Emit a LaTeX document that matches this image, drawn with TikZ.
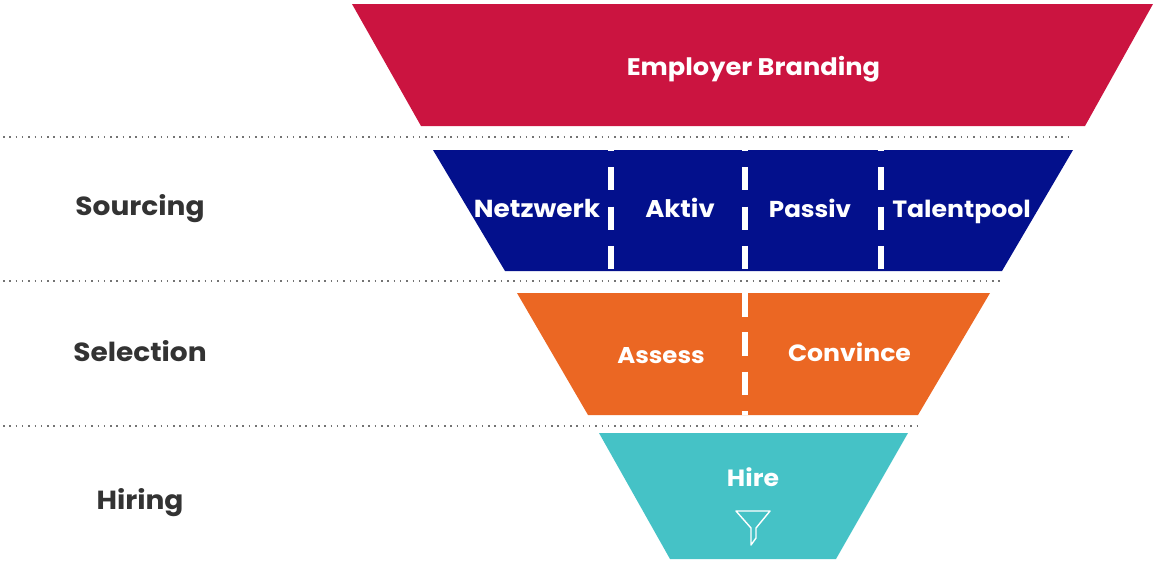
\documentclass[tikz,border=0pt]{standalone}
\usepackage{fontspec}
\setmainfont{Poppins}[BoldFont={* Bold}]
\newfontface\labfont{Poppins Bold}[FakeStretch=1.07]
\definecolor{cred}{HTML}{CB1440}
\definecolor{cblue}{HTML}{03108C}
\definecolor{corange}{HTML}{EB6723}
\definecolor{cteal}{HTML}{45C2C6}
\definecolor{ctxt}{HTML}{333333}
\tikzset{x=1pt,y=-1pt,
 lab/.style={font=\labfont\fontsize{#1}{28}\selectfont,text=white,inner sep=0pt,anchor=base},
 lab/.default=23.5,
 side/.style={font=\labfont\fontsize{26.2}{30}\selectfont,text=ctxt,inner sep=0pt,anchor=base},
 sep/.style={draw=black!55,line width=1.5pt,dash pattern=on 1.5pt off 4.8pt},
 cut/.style={draw=white,line width=6pt,dash pattern=on 23pt off 16.3pt,dash phase=22pt},
 cuttop/.style={draw=white,line width=6pt,dash pattern=on 23.5pt off 15.8pt}}
\begin{document}
\begin{tikzpicture}
\useasboundingbox (0,0) rectangle (1153,563);
\fill[cred] (352,4) -- (1153,4) -- (1085,126) -- (421,126) -- cycle;
\fill[cblue] (433,150) -- (1073,150) -- (1002,271) -- (505,271) -- cycle;
\fill[corange] (517,293) -- (990,293) -- (918,415) -- (588,415) -- cycle;
\fill[cteal] (599,433) -- (908,433) -- (836,559) -- (670,559) -- cycle;
\coordinate (s1a) at (3,137); \coordinate (s1b) at (1068,137);
\coordinate (s2a) at (3,281); \coordinate (s2b) at (1002,281);
\coordinate (s3a) at (3,426); \coordinate (s3b) at (918,426);
\draw[sep] (s1a) -- (s1b);
\draw[sep] (s2a) -- (s2b);
\draw[sep] (s3a) -- (s3b);
\coordinate (c1a) at (611,150); \coordinate (c1b) at (611,271);
\coordinate (c2a) at (744.5,150); \coordinate (c2b) at (744.5,271);
\coordinate (c3a) at (880.5,150); \coordinate (c3b) at (880.5,271);
\coordinate (c4a) at (744.5,293); \coordinate (c4b) at (744.5,415);
\draw[cut] (c1a) -- (c1b);
\draw[cut] (c2a) -- (c2b);
\draw[cut] (c3a) -- (c3b);
\draw[cuttop] (c4a) -- (c4b);
\node[lab=24] (eb) at (753.5,75) {Employer Branding};
\node[lab=24.6] (n1) at (537,217) {Netzwerk};
\node[lab=24.2] (n2) at (680,217) {Aktiv};
\node[lab=23] (n3) at (810,217) {Passiv};
\node[lab] (n4) at (961.5,217) {Talentpool};
\node[lab=22.8] (a1) at (661,363) {Assess};
\node[lab] (a2) at (849.5,361) {Convince};
\node[lab] (h) at (753,486.5) {Hire};
\node[side] (l1) at (140,215) {Sourcing};
\node[side] (l2) at (140,361) {Selection};
\node[side] (l3) at (140,509) {Hiring};
\draw[white,line width=1.4pt,line join=round] (736,511) -- (770,511) -- (756,528) -- (756,538) -- (751,545) -- (751,528) -- cycle;
\end{tikzpicture}
\end{document}
